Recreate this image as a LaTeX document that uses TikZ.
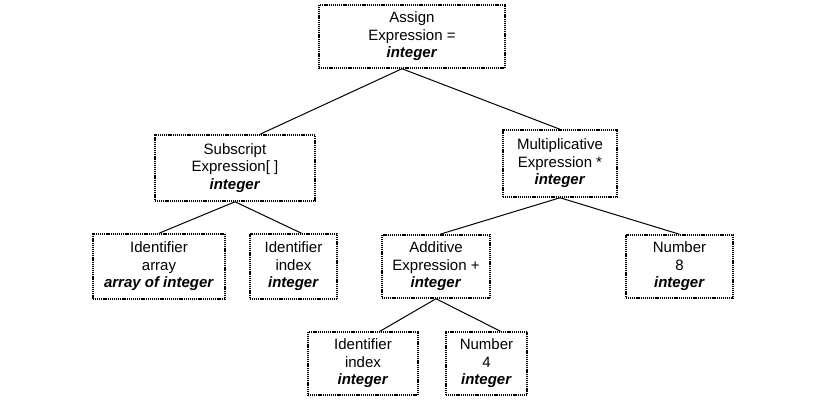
\documentclass[tikz,border=0pt]{standalone}
\usepackage{fontspec}
\setmainfont{Liberation Sans}
\begin{document}
\begin{tikzpicture}[x=1pt,y=-1pt,
  box/.style={draw, line width=1.5pt, dash pattern=on 1.1pt off 0.8pt, align=center, inner sep=0pt,
    font=\fontsize{15}{17.5}\selectfont},
  edge/.style={line width=1pt}]
\useasboundingbox (0,0) rectangle (831,402);
\newcommand{\ty}[1]{\textbf{\textit{#1}}}
\node[box, minimum width=186pt, minimum height=63pt] (assign) at (412,36.5) {Assign\\Expression =\\\ty{integer}};
\node[box, minimum width=160pt, minimum height=66pt] (sub) at (235,168) {Subscript\\Expression[ ]\\\ty{integer}};
\node[box, minimum width=114pt, minimum height=67pt] (mul) at (560,163.5) {Multiplicative\\Expression *\\\ty{integer}};
\node[box, minimum width=132pt, minimum height=65pt] (ida) at (159,266.5) {Identifier\\array\\\ty{array of integer}};
\node[box, minimum width=87pt, minimum height=65pt] (idi) at (293.5,266.5) {Identifier\\index\\\ty{integer}};
\node[box, minimum width=108pt, minimum height=63pt] (add) at (436,266.5) {Additive\\Expression +\\\ty{integer}};
\node[box, minimum width=107pt, minimum height=63pt] (num8) at (679.5,266.5) {Number\\8\\\ty{integer}};
\node[box, minimum width=110pt, minimum height=63pt] (idb) at (363,363.5) {Identifier\\index\\\ty{integer}};
\node[box, minimum width=81pt, minimum height=63pt] (num4) at (486.5,363.5) {Number\\4\\\ty{integer}};
\draw[edge] ([xshift=-10pt]assign.south) -- ([xshift=25pt]sub.north);
\draw[edge] ([xshift=-10pt]assign.south) -- (mul.north);
\draw[edge] (sub.south) -- (ida.north);
\draw[edge] (sub.south) -- ([xshift=8pt]idi.north);
\draw[edge] (mul.south) -- ([xshift=4pt]add.north);
\draw[edge] (mul.south) -- (num8.north);
\draw[edge] (add.south) -- ([xshift=17pt]idb.north);
\draw[edge] (add.south) -- ([xshift=14pt]num4.north);
\end{tikzpicture}
\end{document}
